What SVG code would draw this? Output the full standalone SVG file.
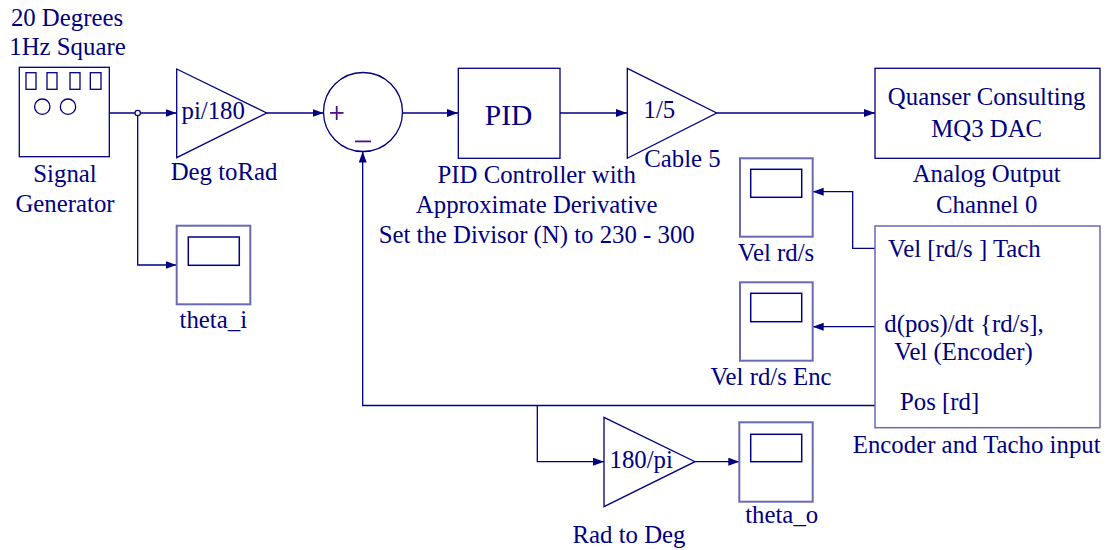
<svg xmlns="http://www.w3.org/2000/svg" width="1108" height="550" viewBox="0 0 1108 550">
<style>
text{font-family:"Liberation Serif","Times New Roman",serif;font-size:24.8px;fill:#000080}
.c{text-anchor:middle}
.blk{fill:#fff;stroke:#000080;stroke-width:1.3}
.scope{fill:#fff;stroke:#6a6ab4;stroke-width:2}
.inner{fill:#fff;stroke:#000080;stroke-width:1.5}
.enc{fill:#fff;stroke:#6a6ab4;stroke-width:1.5}
.wire{fill:none;stroke:#000080;stroke-width:1.3}
.sign{fill:#50108a}
</style>
<defs>
<marker id="ah" markerUnits="userSpaceOnUse" markerWidth="12" markerHeight="10" refX="11" refY="4" orient="auto">
<path d="M0,0 L11,4 L0,8 z" fill="#000080"/>
</marker>
</defs>
<rect width="1108" height="550" fill="#fff"/>

<g id="connectors">
<path class="wire" d="M109,113 H176.5" marker-end="url(#ah)"/>
<path class="wire" d="M137.7,115.7 V265 H176.5" marker-end="url(#ah)"/>
<path class="wire" d="M266.7,113 H323.5" marker-end="url(#ah)"/>
<path class="wire" d="M402.5,113 H458" marker-end="url(#ah)"/>
<path class="wire" d="M560,113 H627" marker-end="url(#ah)"/>
<path class="wire" d="M716.7,113 H875" marker-end="url(#ah)"/>
<path class="wire" d="M875,248.3 H852.7 V191.7 H812.7" marker-end="url(#ah)"/>
<path class="wire" d="M875,326.7 H812.7" marker-end="url(#ah)"/>
<path class="wire" d="M875,405.5 H362.7 V151.5" marker-end="url(#ah)"/>
<path class="wire" d="M537.3,405.5 V461.7 H604" marker-end="url(#ah)"/>
<path class="wire" d="M695,461.7 H739.3" marker-end="url(#ah)"/>
<circle cx="137.7" cy="113" r="2.7" fill="#fff" stroke="#000080" stroke-width="1.2"/>
</g>

<g id="signal_generator">
<rect class="blk" x="19.3" y="67.3" width="90" height="89.4"/>
<rect class="blk" x="26" y="72.7" width="10" height="16.6"/>
<rect class="blk" x="47" y="72.7" width="10" height="16.6"/>
<rect class="blk" x="70" y="72.7" width="10" height="16.6"/>
<rect class="blk" x="90.3" y="72.7" width="10.7" height="16.6"/>
<circle class="blk" cx="42.3" cy="106.7" r="7.7"/>
<circle class="blk" cx="68" cy="106.7" r="7.7"/>
<text class="c" x="67" y="26">20 Degrees</text>
<text class="c" x="67.5" y="55">1Hz Square</text>
<text class="c" x="65" y="181.5">Signal</text>
<text class="c" x="65" y="211.5">Generator</text>
</g>

<g id="deg_to_rad">
<path class="blk" d="M176.7,69 L266.7,113 L176.7,157.7 z"/>
<text x="181.5" y="119">pi/180</text>
<text class="c" x="224" y="180">Deg toRad</text>
</g>

<g id="theta_i">
<rect class="scope" x="176.7" y="225.7" width="73.6" height="78.6"/>
<rect class="inner" x="188.3" y="237" width="51" height="28.3"/>
<text class="c" x="213.3" y="328">theta_i</text>
</g>

<g id="sum">
<circle class="blk" cx="363" cy="112" r="39.5"/>
<rect class="sign" x="330" y="112" width="13.5" height="1.8"/>
<rect class="sign" x="335.8" y="106" width="1.8" height="14"/>
<rect class="sign" x="355" y="140.5" width="16" height="1.8"/>
</g>

<g id="pid">
<rect class="blk" x="458.3" y="68.3" width="101.7" height="90"/>
<text class="c" x="508.5" y="125" style="font-size:29.5px">PID</text>
<text class="c" x="536.7" y="183.3">PID Controller with</text>
<text class="c" x="536.7" y="213">Approximate Derivative</text>
<text class="c" x="536.7" y="243">Set the Divisor (N) to 230 - 300</text>
</g>

<g id="cable5">
<path class="blk" d="M627.3,68.3 L716.7,113 L627.3,158.3 z"/>
<text x="643.5" y="118">1/5</text>
<text class="c" x="682.5" y="166.5">Cable 5</text>
</g>

<g id="dac">
<rect class="blk" x="875" y="68.3" width="225" height="90"/>
<text class="c" x="986.7" y="105">Quanser Consulting</text>
<text class="c" x="986.7" y="136.5">MQ3 DAC</text>
<text class="c" x="986.7" y="181.7">Analog Output</text>
<text class="c" x="986.7" y="213.3">Channel 0</text>
</g>

<g id="vel_scope">
<rect class="scope" x="740" y="158.3" width="72.7" height="78.4"/>
<rect class="inner" x="750.7" y="169.3" width="51" height="28"/>
<text class="c" x="776" y="260.5">Vel rd/s</text>
</g>

<g id="vel_enc_scope">
<rect class="scope" x="740" y="282.3" width="72.7" height="78.4"/>
<rect class="inner" x="750.7" y="293.3" width="51" height="28.4"/>
<text class="c" x="771" y="385">Vel rd/s Enc</text>
</g>

<g id="encoder">
<rect class="enc" x="875" y="226" width="225" height="201.7"/>
<text x="888" y="256.7">Vel [rd/s ] Tach</text>
<text x="884.3" y="331.7">d(pos)/dt {rd/s],</text>
<text x="894.3" y="360">Vel (Encoder)</text>
<text x="900" y="410">Pos [rd]</text>
<text class="c" x="976.7" y="453">Encoder and Tacho input</text>
</g>

<g id="rad_to_deg">
<path class="blk" d="M604,417.3 L695,461.7 L604,506.7 z"/>
<text x="609.5" y="468">180/pi</text>
<text class="c" x="629" y="543.3">Rad to Deg</text>
</g>

<g id="theta_o">
<rect class="scope" x="739.3" y="422.3" width="73.4" height="79.4"/>
<rect class="inner" x="750.7" y="434.3" width="51" height="27.4"/>
<text class="c" x="781.7" y="523.3">theta_o</text>
</g>
</svg>
